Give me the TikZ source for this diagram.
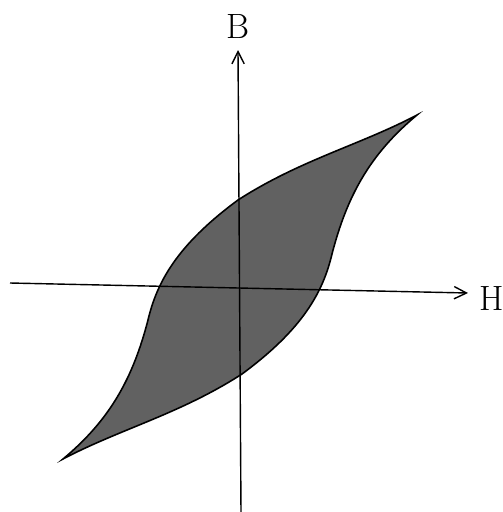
\documentclass[tikz,border=0pt]{standalone}
\usetikzlibrary{arrows.meta}
\begin{document}
\begin{tikzpicture}[x=0.02cm,y=-0.02cm,
  axis/.style={line width=0.8pt,-{Straight Barb[length=7pt,width=7pt,line width=0.8pt]}},
  loopfill/.style={fill=black!62,draw=black,line width=0.9pt,line join=miter},
  lab/.style={font=\fontsize{20}{24}\selectfont,inner sep=0pt}]
\useasboundingbox (0,0) rectangle (503,512);
% hysteresis loop
\coordinate (tipL) at (63,459);
\coordinate (tipR) at (417,115);
\path[loopfill] (tipL) .. controls (110,420) and (133,378) .. (148,320)
  .. controls (157,282) and (177,245) .. (238,200)
  .. controls (300,160) and (360,145) .. (tipR)
  .. controls (370,154) and (347,196) .. (332,254)
  .. controls (323,292) and (303,329) .. (242,374)
  .. controls (180,414) and (120,429) .. (tipL) -- cycle;
% axes
\coordinate (hs) at (10,283);
\coordinate (he) at (468,293);
\coordinate (vs) at (241,512);
\coordinate (ve) at (238,50);
\draw[axis] (hs) -- (he);
\draw[axis] (vs) -- (ve);
\node[lab] (B) at (238,26) {B};
\node[lab] (H) at (492,298) {H};
\end{tikzpicture}
\end{document}
